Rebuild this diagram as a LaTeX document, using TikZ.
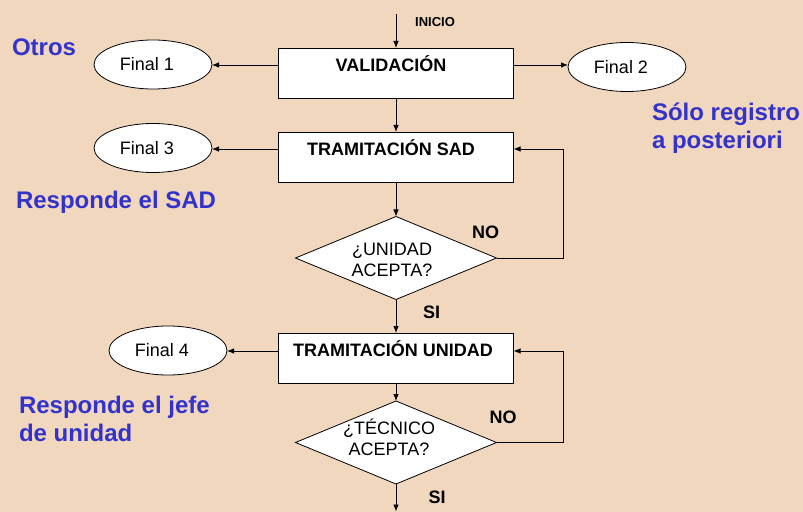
\documentclass[tikz,border=0pt]{standalone}
\usepackage{fontspec}
\setmainfont{Liberation Sans}
\usetikzlibrary{arrows.meta,shapes.geometric}
\definecolor{bgc}{RGB}{240,215,190}
\definecolor{bluet}{RGB}{51,51,204}
\tikzset{
  every node/.style={inner sep=0pt, outer sep=0pt},
  flow/.style={draw=black, line width=0.8bp, -{Latex[length=7bp,width=5.5bp]}},
  procbox/.style={draw=black, line width=0.8bp, fill=white, rectangle,
    minimum width=235bp, text height=23.5bp, text depth=26.5bp,
    font=\fontsize{18bp}{21bp}\selectfont\bfseries},
  finalnode/.style={draw=black, line width=0.8bp, fill=white, ellipse,
    minimum width=118bp, minimum height=49bp,
    font=\fontsize{18bp}{21bp}\selectfont},
  decision/.style={draw=black, line width=0.8bp, fill=white, diamond,
    minimum width=201bp, minimum height=83bp},
  dtext/.style={align=center, font=\fontsize{18bp}{21bp}\selectfont},
  lbl/.style={font=\fontsize{18bp}{21bp}\selectfont\bfseries},
  note/.style={text=bluet, align=left, anchor=west,
    font=\fontsize{24bp}{28bp}\selectfont\bfseries},
}
\begin{document}
\begin{tikzpicture}[x=1bp,y=-1bp]
\fill[bgc] (0,0) rectangle (803,512);
\useasboundingbox (0,0) rectangle (803,512);

% nodes
\coordinate (ini) at (396,14);
\node[font=\fontsize{13bp}{15bp}\selectfont\bfseries] (initxt) at (435,22) {INICIO};
\node[procbox] (val) at (396,73) {VALIDACIÓN\kern10bp};
\node[procbox] (sad) at (396,157) {TRAMITACIÓN SAD\kern10bp};
\node[procbox] (un) at (396,358) {TRAMITACIÓN UNIDAD\kern6bp};

\node[finalnode] (f1) at (153,64.5) {Final 1\kern12bp};
\node[finalnode] (f2) at (627,67) {Final 2\kern12bp};
\node[finalnode] (f3) at (153,148) {Final 3\kern12bp};
\node[finalnode] (f4) at (168,350.5) {Final 4\kern12bp};

\node[decision] (d1) at (396,258) {};
\node[dtext] (d1t) at (392,259.5) {¿UNIDAD\\ACEPTA?};
\node[decision] (d2) at (396,442.5) {};
\node[dtext] (d2t) at (389,437) {¿TÉCNICO\\ACEPTA?};

\coordinate (endc) at (396,511.5);
\coordinate (valL) at ([yshift=8bp]val.west);
\coordinate (valR) at ([yshift=8bp]val.east);
\coordinate (sadL) at ([yshift=8bp]sad.west);
\coordinate (sadR) at ([yshift=8bp]sad.east);
\coordinate (unL) at ([yshift=7bp]un.west);
\coordinate (unR) at ([yshift=7bp]un.east);

% labels
\node[lbl] (no1) at (485.5,232.5) {NO};
\node[lbl] (si1) at (431.5,312.5) {SI};
\node[lbl] (no2) at (503,417) {NO};
\node[lbl] (si2) at (437,497) {SI};

\node[note] (otros) at (12,47) {Otros};
\node[note] (solo) at (652,128) {Sólo registro\\a posteriori};
\node[note] (rsad) at (16,202) {Responde el SAD};
\node[note] (rjefe) at (19,419) {Responde el jefe\\de unidad};

% connectors
\draw[flow] (ini) -- (val.north);
\draw[flow] (val.south) -- (sad.north);
\draw[flow] (sad.south) -- (d1.north);
\draw[flow] (d1.south) -- (un.north);
\draw[flow] (un.south) -- (d2.north);
\draw[flow] (d2.south) -- (endc);

\draw[flow] (valL) -- (f1.east |- valL);
\draw[flow] (valR) -- (f2.west |- valR);
\draw[flow] (sadL) -- (f3.east |- sadL);
\draw[flow] (unL) -- (f4.east |- unL);

\draw[flow] (d1.east) -- ++(67,0) |- (sadR);
\draw[flow] (d2.east) -- ++(67,0) |- (unR);
\end{tikzpicture}
\end{document}
